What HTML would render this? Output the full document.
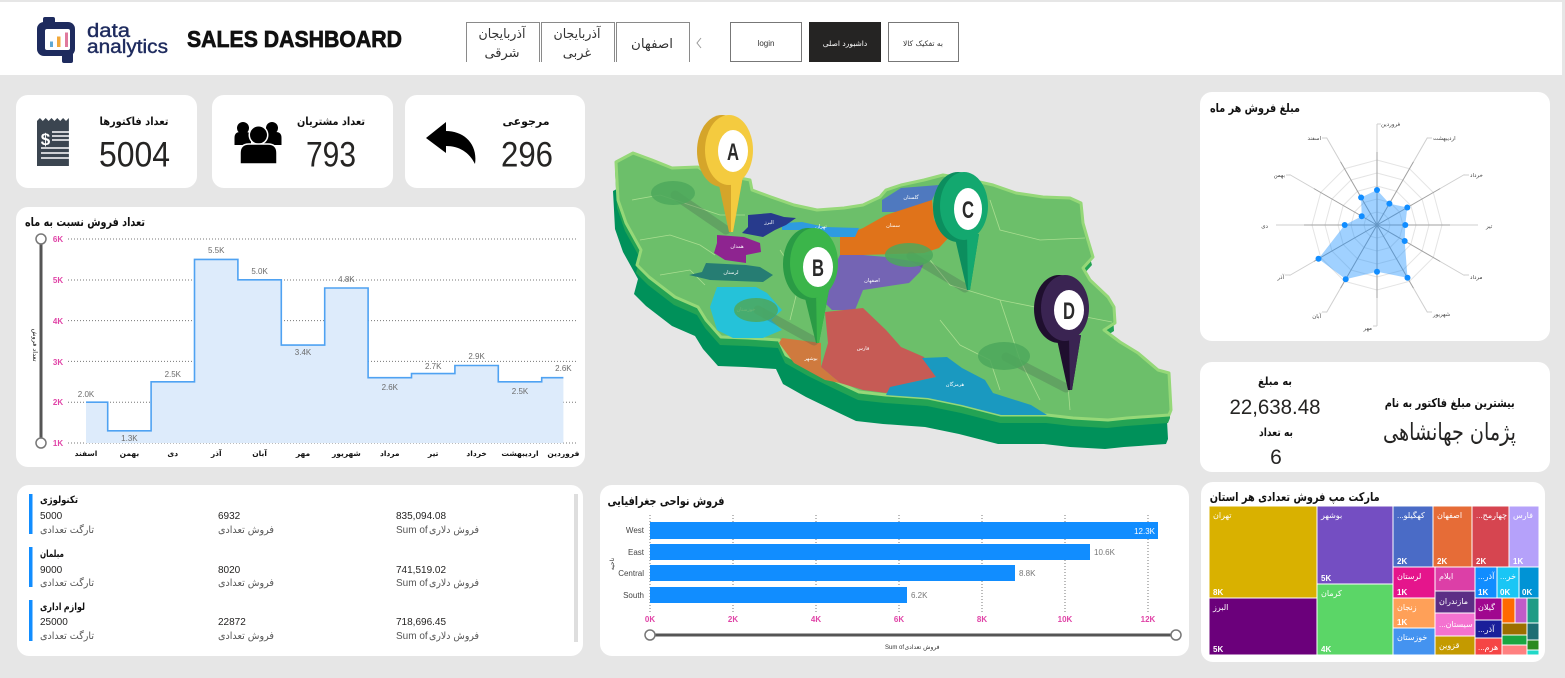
<!DOCTYPE html>
<html><head><meta charset="utf-8">
<style>
html,body{margin:0;padding:0;background:#E6E6E6;overflow:hidden;}
svg{display:block}
text{font-family:"Liberation Sans","DejaVu Sans",sans-serif;}
.fa{font-family:"DejaVu Sans","Liberation Sans",sans-serif;}
</style></head><body>
<svg width="1565" height="678" viewBox="0 0 1565 678" xmlns="http://www.w3.org/2000/svg">
<rect x="0" y="0" width="1565" height="678" fill="#E6E6E6"/>

<!-- HEADER -->
<rect x="0" y="2" width="1562" height="73" fill="#fff"/>
<rect x="37" y="22" width="38" height="34" rx="7" fill="#1E2B5E"/>
<rect x="43" y="17" width="12" height="9" rx="2" fill="#1E2B5E"/>
<rect x="62" y="52" width="11" height="11" rx="2" fill="#1E2B5E"/>
<rect x="45" y="29" width="25" height="21" rx="2" fill="#fff"/>
<rect x="50" y="41.5" width="3" height="5.5" fill="#5FA8D3"/>
<rect x="57" y="36.5" width="3.5" height="10.5" fill="#F2A93B"/>
<rect x="65" y="32.5" width="3" height="14.5" fill="#E0799C"/>
<text x="87" y="37" font-size="19" fill="#1E2B5E" stroke="#1E2B5E" stroke-width="0.4" textLength="43" lengthAdjust="spacingAndGlyphs">data</text>
<text x="87" y="53" font-size="19" fill="#1E2B5E" stroke="#1E2B5E" stroke-width="0.4" textLength="81" lengthAdjust="spacingAndGlyphs">analytics</text>
<text x="187" y="47" font-size="23" font-weight="bold" fill="#111" stroke="#111" stroke-width="0.7" textLength="215" lengthAdjust="spacingAndGlyphs">SALES DASHBOARD</text>

<path d="M466.5,62 V22.5 H539.5 V62" fill="none" stroke="#8a8a8a" stroke-width="1"/>
<path d="M541.5,62 V22.5 H614.5 V62" fill="none" stroke="#8a8a8a" stroke-width="1"/>
<path d="M616.5,62 V22.5 H689.5 V62" fill="none" stroke="#8a8a8a" stroke-width="1"/>
<text class="fa" x="502" y="38" font-size="13" fill="#333" text-anchor="middle" textLength="47" lengthAdjust="spacingAndGlyphs">آذربایجان</text>
<text class="fa" x="502" y="57" font-size="13" fill="#333" text-anchor="middle">شرقی</text>
<text class="fa" x="577" y="38" font-size="13" fill="#333" text-anchor="middle" textLength="47" lengthAdjust="spacingAndGlyphs">آذربایجان</text>
<text class="fa" x="577" y="57" font-size="13" fill="#333" text-anchor="middle">غربی</text>
<text class="fa" x="652" y="48" font-size="13" fill="#333" text-anchor="middle" textLength="42" lengthAdjust="spacingAndGlyphs">اصفهان</text>
<polyline points="701,38 697,43 701,48" fill="none" stroke="#999" stroke-width="1"/>

<rect x="730.5" y="22.5" width="71" height="39" fill="#fff" stroke="#777"/>
<text x="766" y="46" font-size="8" fill="#333" text-anchor="middle">login</text>
<rect x="809" y="22" width="72" height="40" fill="#252423"/>
<text class="fa" x="845" y="46" font-size="7.5" fill="#fff" text-anchor="middle">داشبورد اصلی</text>
<rect x="888.5" y="22.5" width="70" height="39" fill="#fff" stroke="#777"/>
<text class="fa" x="923" y="46" font-size="7.5" fill="#333" text-anchor="middle">به تفکیک کالا</text>

<!-- KPI CARDS -->
<rect x="16" y="95" width="181" height="93" rx="12" fill="#fff"/>
<rect x="212" y="95" width="181" height="93" rx="12" fill="#fff"/>
<rect x="405" y="95" width="180" height="93" rx="12" fill="#fff"/>

<path d="M37,121 l2.9,-3 l2.9,3 l2.9,-3 l2.9,3 l2.9,-3 l2.9,3 l2.9,-3 l2.9,3 l2.9,-3 l2.9,3 l2.9,-3 V166 H37 Z" fill="#3B4550"/>
<text x="45.5" y="145" font-size="17" font-weight="bold" fill="#fff" text-anchor="middle">$</text>
<g stroke="#fff" stroke-width="1.6">
<line x1="52" y1="132" x2="69" y2="132"/><line x1="52" y1="136" x2="69" y2="136"/><line x1="52" y1="140" x2="69" y2="140"/>
<line x1="41" y1="148" x2="69" y2="148"/><line x1="41" y1="153" x2="69" y2="153"/><line x1="41" y1="158" x2="69" y2="158"/>
</g>
<text class="fa" x="134" y="125" font-size="11" font-weight="bold" fill="#111" text-anchor="middle" textLength="69" lengthAdjust="spacingAndGlyphs">تعداد فاکتورها</text>
<text x="134.5" y="166.5" font-size="35" fill="#252423" text-anchor="middle" textLength="71" lengthAdjust="spacingAndGlyphs">5004</text>

<circle cx="243" cy="128" r="6" fill="#000"/>
<circle cx="272" cy="128" r="6" fill="#000"/>
<path d="M234.5,145 V138 Q234.5,132 240,132 H246 Q251,132 251,138 V145 Z" fill="#000"/>
<path d="M264,145 V138 Q264,132 269,132 H276 Q281.5,132 281.5,138 V145 Z" fill="#000"/>
<circle cx="258.5" cy="135" r="10" fill="#fff"/>
<circle cx="258.5" cy="135" r="8.5" fill="#000"/>
<path d="M240,164 V153 Q240,144 249,144 H268 Q277,144 277,153 V164 Z" fill="#000" stroke="#fff" stroke-width="1.5"/>
<text class="fa" x="331" y="125" font-size="11" font-weight="bold" fill="#111" text-anchor="middle" textLength="68" lengthAdjust="spacingAndGlyphs">تعداد مشتریان</text>
<text x="331" y="166.5" font-size="35" fill="#252423" text-anchor="middle" textLength="50" lengthAdjust="spacingAndGlyphs">793</text>

<path d="M426,138 L446,122 L446,131 C464,131 478,144 475,164 C469,152 459,146 446,146 L446,153 Z" fill="#000"/>
<text class="fa" x="526" y="125" font-size="11" font-weight="bold" fill="#111" text-anchor="middle" textLength="47" lengthAdjust="spacingAndGlyphs">مرجوعی</text>
<text x="527" y="166.5" font-size="35" fill="#252423" text-anchor="middle" textLength="52" lengthAdjust="spacingAndGlyphs">296</text>

<!-- STEP CHART CARD -->
<rect x="16" y="207" width="569" height="260" rx="12" fill="#fff"/>
<text class="fa" x="85" y="226" font-size="12" font-weight="bold" fill="#111" text-anchor="middle" textLength="120" lengthAdjust="spacingAndGlyphs">تعداد فروش نسبت به ماه</text>
<g stroke="#777" stroke-width="1" stroke-dasharray="1,2">
<line x1="68" x2="578" y1="239" y2="239"/>
<line x1="68" x2="578" y1="280" y2="280"/>
<line x1="68" x2="578" y1="320.6" y2="320.6"/>
<line x1="68" x2="578" y1="361.4" y2="361.4"/>
<line x1="68" x2="578" y1="402.2" y2="402.2"/>
<line x1="68" x2="578" y1="443" y2="443"/>
</g>
<g font-size="8" font-weight="bold" fill="#E044A7" text-anchor="middle">
<text x="58" y="242">6K</text><text x="58" y="283">5K</text><text x="58" y="324">4K</text>
<text x="58" y="365">3K</text><text x="58" y="405">2K</text><text x="58" y="446">1K</text>
</g>
<line x1="41" y1="239" x2="41" y2="443" stroke="#555" stroke-width="3"/>
<circle cx="41" cy="239" r="5" fill="#fff" stroke="#777" stroke-width="1.5"/>
<circle cx="41" cy="443" r="5" fill="#fff" stroke="#777" stroke-width="1.5"/>
<text class="fa" x="0" y="0" font-size="6.5" fill="#222" text-anchor="middle" transform="translate(33,345) rotate(90)">تعداد فروش</text>
<path d="M86,402.2 H107.7 V430.8 H151.1 V381.8 H194.5 V259.4 H237.9 V279.8 H281.3 V345.1 H324.7 V288 H368.1 V377.7 H411.5 V373.6 H454.9 V365.5 H498.3 V381.8 H541.7 V377.7 H563.4 V443 H86 Z" fill="#DDEBFB"/>
<path d="M86,402.2 H107.7 V430.8 H151.1 V381.8 H194.5 V259.4 H237.9 V279.8 H281.3 V345.1 H324.7 V288 H368.1 V377.7 H411.5 V373.6 H454.9 V365.5 H498.3 V381.8 H541.7 V377.7 H563.4" fill="none" stroke="#4FA2F2" stroke-width="1.6"/>
<g font-size="8" fill="#6b6b6b" text-anchor="middle">
<text x="86" y="397">2.0K</text><text x="129.4" y="441">1.3K</text><text x="172.8" y="377">2.5K</text>
<text x="216.2" y="253">5.5K</text><text x="259.6" y="274">5.0K</text><text x="303" y="355">3.4K</text>
<text x="346.4" y="282">4.8K</text><text x="389.8" y="390">2.6K</text><text x="433.2" y="369">2.7K</text>
<text x="476.6" y="359">2.9K</text><text x="520" y="394">2.5K</text><text x="563.4" y="371">2.6K</text>
</g>
<g class="fa" font-size="7.5" font-weight="bold" fill="#111" text-anchor="middle">
<text x="86" y="456">اسفند</text><text x="129.4" y="456">بهمن</text><text x="172.8" y="456">دی</text>
<text x="216.2" y="456">آذر</text><text x="259.6" y="456">آبان</text><text x="303" y="456">مهر</text>
<text x="346.4" y="456">شهریور</text><text x="389.8" y="456">مرداد</text><text x="433.2" y="456">تیر</text>
<text x="476.6" y="456">خرداد</text><text x="520" y="456">اردیبهشت</text><text x="563.4" y="456">فروردین</text>
</g>

<!-- MAP -->
<polygon transform="translate(-3,29)" fill="#00915A" points="616,162 633,153 652,160 672,168 698,167 710,175 740,178 750,180 752,190 771,197 794,205 817,210 844,208 863,205 880,197 886,190 901,185 924,180 943,175 962,178 993,185 1016,193 1043,197 1070,198 1081,203 1083,223 1087,237 1093,257 1083,268 1090,280 1108,297 1114,307 1115,323 1104,330 1120,342 1138,353 1158,370 1169,373 1171,410 1169,415 1127,418 1108,420 1073,418 1047,415 1001,415 962,405 928,398 886,395 859,392 840,383 809,368 786,355 779,340 748,338 721,337 706,320 698,307 675,297 649,277 637,265 641,250 626,223 618,200"/>
<polygon transform="translate(-1,8)" fill="#23A354" points="616,162 633,153 652,160 672,168 698,167 710,175 740,178 750,180 752,190 771,197 794,205 817,210 844,208 863,205 880,197 886,190 901,185 924,180 943,175 962,178 993,185 1016,193 1043,197 1070,198 1081,203 1083,223 1087,237 1093,257 1083,268 1090,280 1108,297 1114,307 1115,323 1104,330 1120,342 1138,353 1158,370 1169,373 1171,410 1169,415 1127,418 1108,420 1073,418 1047,415 1001,415 962,405 928,398 886,395 859,392 840,383 809,368 786,355 779,340 748,338 721,337 706,320 698,307 675,297 649,277 637,265 641,250 626,223 618,200"/>
<polygon fill="#6CBF6A" stroke="#95D878" stroke-width="3" stroke-linejoin="round" points="616,162 633,153 652,160 672,168 698,167 710,175 740,178 750,180 752,190 771,197 794,205 817,210 844,208 863,205 880,197 886,190 901,185 924,180 943,175 962,178 993,185 1016,193 1043,197 1070,198 1081,203 1083,223 1087,237 1093,257 1083,268 1090,280 1108,297 1114,307 1115,323 1104,330 1120,342 1138,353 1158,370 1169,373 1171,410 1169,415 1127,418 1108,420 1073,418 1047,415 1001,415 962,405 928,398 886,395 859,392 840,383 809,368 786,355 779,340 748,338 721,337 706,320 698,307 675,297 649,277 637,265 641,250 626,223 618,200"/>
<g fill="none" stroke="#A9DE90" stroke-width="0.8">
<polyline points="632,200 660,195 690,205 720,215 745,215"/>
<polyline points="640,240 670,235 700,245 715,255"/>
<polyline points="660,275 690,270 705,285"/>
<polyline points="990,200 1000,230 1040,240 1085,238"/>
<polyline points="950,285 1000,300 1060,312 1112,322"/>
<polyline points="1000,300 1010,330 1020,360 1040,400"/>
<polyline points="940,320 960,345 990,360 1000,390"/>
<polyline points="1060,312 1065,350 1070,410"/>
<polyline points="930,260 950,285"/>
<polyline points="780,250 800,280 790,320"/>
</g>
<!-- provinces -->
<polygon fill="#4F79BF" points="882,200 901,188 939,185 932,200 916,212 882,212"/>
<polygon fill="#E0731A" points="840,237 863,228 886,215 932,200 934,220 951,235 939,248 924,253 863,255 840,255"/>
<polygon fill="#2E9BE0" points="782,223 802,222 825,227 859,228 855,237 832,237 802,230 782,230"/>
<polygon fill="#273A8C" points="748,215 771,213 784,217 796,218 786,225 775,230 763,237 742,233 748,227"/>
<polygon fill="#8E2490" points="717,235 744,237 760,243 761,252 746,255 746,263 725,260 714,253 717,243"/>
<polygon fill="#267D73" points="706,263 746,265 760,267 773,275 763,282 710,280 689,275 702,272"/>
<polygon fill="#25C2D9" points="717,287 756,287 767,293 782,310 771,320 782,330 763,338 733,338 717,330 710,307"/>
<polygon fill="#7464B4" points="840,255 863,255 886,257 924,263 920,272 909,283 863,290 855,310 832,310 825,303 825,277 836,263"/>
<polygon fill="#C65B55" points="825,312 863,308 886,330 901,347 924,357 936,377 909,383 886,393 863,390 840,383 821,367 828,343"/>
<polygon fill="#CF7A3E" points="782,338 821,343 821,367 840,383 825,380 794,363 779,343"/>
<polygon fill="#1A99C0" points="922,358 947,357 962,368 985,380 993,393 1031,405 1047,415 1001,415 962,405 928,398 886,395 890,387 936,377"/>
<g class="fa" font-size="5" fill="#fff" text-anchor="middle">
<text x="911" y="199">گلستان</text><text x="769" y="224">البرز</text><text x="821" y="228">تهران</text>
<text x="893" y="227">سمنان</text><text x="737" y="248">همدان</text><text x="731" y="274">لرستان</text>
<text x="872" y="282">اصفهان</text><text x="746" y="311">خوزستان</text><text x="863" y="350">فارس</text>
<text x="811" y="360">بوشهر</text><text x="955" y="386">هرمزگان</text>
</g>
<!-- shadows -->
<g stroke="rgba(70,90,80,0.28)" stroke-width="9" stroke-linecap="round">
<line x1="675" y1="195" x2="726" y2="230"/>
<line x1="758" y1="310" x2="814" y2="341"/>
<line x1="911" y1="256" x2="965" y2="288"/>
<line x1="1006" y1="357" x2="1066" y2="388"/>
</g>
<g fill="#4DA85C" opacity="0.85">
<ellipse cx="673" cy="193" rx="22" ry="12"/>
<ellipse cx="909" cy="255" rx="24" ry="12"/>
<ellipse cx="756" cy="310" rx="22" ry="12"/>
<ellipse cx="1004" cy="356" rx="26" ry="14"/>
</g>
<!-- pins -->
<polygon points="717,176 743,176 733,232 729,232" fill="#D5A52A"/>
<polygon points="731,176 743,176 733,232 731,232" fill="#F4CB3F"/>
<ellipse cx="722" cy="151" rx="25" ry="36" fill="#D5A52A"/>
<ellipse cx="729" cy="150" rx="24" ry="35" fill="#F4CB3F"/>
<ellipse cx="733" cy="151" rx="15" ry="21" fill="#fff"/>
<text x="733" y="160" font-size="24" font-weight="bold" fill="#2a2a2a" text-anchor="middle" textLength="12" lengthAdjust="spacingAndGlyphs">A</text>

<polygon points="803,290 829,290 819,343 816,343" fill="#2A9B45"/>
<polygon points="816,290 829,290 819,343 817,343" fill="#3BB54A"/>
<ellipse cx="808" cy="264" rx="25" ry="36" fill="#2A9B45"/>
<ellipse cx="814" cy="263" rx="24" ry="35" fill="#3BB54A"/>
<ellipse cx="818" cy="267" rx="15" ry="20" fill="#fff"/>
<text x="818" y="276" font-size="24" font-weight="bold" fill="#2a2a2a" text-anchor="middle" textLength="12" lengthAdjust="spacingAndGlyphs">B</text>

<polygon points="954,234 979,234 970,290 967,290" fill="#0C8E5E"/>
<polygon points="967,234 979,234 970,290 968,290" fill="#13A86F"/>
<ellipse cx="958" cy="207" rx="25" ry="35" fill="#0C8E5E"/>
<ellipse cx="964" cy="206" rx="24" ry="34" fill="#13A86F"/>
<ellipse cx="968" cy="209" rx="14" ry="21" fill="#fff"/>
<text x="968" y="218" font-size="24" font-weight="bold" fill="#2a2a2a" text-anchor="middle" textLength="12" lengthAdjust="spacingAndGlyphs">C</text>

<polygon points="1056,335 1081,335 1072,390 1068,390" fill="#1F0F2E"/>
<polygon points="1069,335 1081,335 1072,390 1070,390" fill="#3A2452"/>
<ellipse cx="1059" cy="309" rx="25" ry="34" fill="#1F0F2E"/>
<ellipse cx="1065" cy="308" rx="24" ry="33" fill="#3A2452"/>
<ellipse cx="1069" cy="310" rx="15" ry="20" fill="#fff"/>
<text x="1069" y="319" font-size="24" font-weight="bold" fill="#2a2a2a" text-anchor="middle" textLength="12" lengthAdjust="spacingAndGlyphs">D</text>

<!-- RADAR CARD -->
<rect x="1200" y="92" width="350" height="249" rx="12" fill="#fff"/>
<text class="fa" x="1255" y="112" font-size="12" font-weight="bold" fill="#111" text-anchor="middle" textLength="90" lengthAdjust="spacingAndGlyphs">مبلغ فروش هر ماه</text>
<g transform="translate(1377,225)">
<g fill="none" stroke="#E4E4E4" stroke-width="1">
<polygon transform="scale(13)" vector-effect="non-scaling-stroke" points="0,-1 0.5,-0.866 0.866,-0.5 1,0 0.866,0.5 0.5,0.866 0,1 -0.5,0.866 -0.866,0.5 -1,0 -0.866,-0.5 -0.5,-0.866"/>
<polygon transform="scale(26)" vector-effect="non-scaling-stroke" points="0,-1 0.5,-0.866 0.866,-0.5 1,0 0.866,0.5 0.5,0.866 0,1 -0.5,0.866 -0.866,0.5 -1,0 -0.866,-0.5 -0.5,-0.866"/>
<polygon transform="scale(39)" vector-effect="non-scaling-stroke" points="0,-1 0.5,-0.866 0.866,-0.5 1,0 0.866,0.5 0.5,0.866 0,1 -0.5,0.866 -0.866,0.5 -1,0 -0.866,-0.5 -0.5,-0.866"/>
<polygon transform="scale(52)" vector-effect="non-scaling-stroke" points="0,-1 0.5,-0.866 0.866,-0.5 1,0 0.866,0.5 0.5,0.866 0,1 -0.5,0.866 -0.866,0.5 -1,0 -0.866,-0.5 -0.5,-0.866"/>
<polygon transform="scale(65)" vector-effect="non-scaling-stroke" points="0,-1 0.5,-0.866 0.866,-0.5 1,0 0.866,0.5 0.5,0.866 0,1 -0.5,0.866 -0.866,0.5 -1,0 -0.866,-0.5 -0.5,-0.866"/>
</g>
<g stroke="#CFCFCF" stroke-width="1">
<line x1="0" y1="-73" x2="0" y2="-101" transform="rotate(0)"/>
<line x1="0" y1="-73" x2="0" y2="-101" transform="rotate(30)"/>
<line x1="0" y1="-73" x2="0" y2="-101" transform="rotate(60)"/>
<line x1="0" y1="-73" x2="0" y2="-101" transform="rotate(90)"/>
<line x1="0" y1="-73" x2="0" y2="-101" transform="rotate(120)"/>
<line x1="0" y1="-73" x2="0" y2="-101" transform="rotate(150)"/>
<line x1="0" y1="-73" x2="0" y2="-101" transform="rotate(180)"/>
<line x1="0" y1="-73" x2="0" y2="-101" transform="rotate(210)"/>
<line x1="0" y1="-73" x2="0" y2="-101" transform="rotate(240)"/>
<line x1="0" y1="-73" x2="0" y2="-101" transform="rotate(270)"/>
<line x1="0" y1="-73" x2="0" y2="-101" transform="rotate(300)"/>
<line x1="0" y1="-73" x2="0" y2="-101" transform="rotate(330)"/>
</g>
<g stroke="#A0A0A0" stroke-width="1">
<line x1="0" y1="0" x2="0" y2="-73" transform="rotate(0)"/>
<line x1="0" y1="0" x2="0" y2="-73" transform="rotate(30)"/>
<line x1="0" y1="0" x2="0" y2="-73" transform="rotate(60)"/>
<line x1="0" y1="0" x2="0" y2="-73" transform="rotate(90)"/>
<line x1="0" y1="0" x2="0" y2="-73" transform="rotate(120)"/>
<line x1="0" y1="0" x2="0" y2="-73" transform="rotate(150)"/>
<line x1="0" y1="0" x2="0" y2="-73" transform="rotate(180)"/>
<line x1="0" y1="0" x2="0" y2="-73" transform="rotate(210)"/>
<line x1="0" y1="0" x2="0" y2="-73" transform="rotate(240)"/>
<line x1="0" y1="0" x2="0" y2="-73" transform="rotate(270)"/>
<line x1="0" y1="0" x2="0" y2="-73" transform="rotate(300)"/>
<line x1="0" y1="0" x2="0" y2="-73" transform="rotate(330)"/>
</g>
</g>
<g stroke="#CFCFCF" stroke-width="1">
<line x1="1377" y1="124" x2="1381" y2="124"/>
<line x1="1427" y1="138" x2="1432" y2="138"/>
<line x1="1464" y1="175" x2="1469" y2="175"/>
<line x1="1464" y1="275" x2="1469" y2="275"/>
<line x1="1427" y1="312" x2="1432" y2="312"/>
<line x1="1373" y1="326" x2="1377" y2="326"/>
<line x1="1327" y1="312" x2="1322" y2="312"/>
<line x1="1290" y1="275" x2="1285" y2="275"/>
<line x1="1290" y1="175" x2="1286" y2="175"/>
<line x1="1327" y1="138" x2="1322" y2="138"/>
</g>
<polygon points="1377,190 1389.4,203.6 1407.3,207.5 1405.3,225 1404.7,241 1407.5,277.8 1377,271.7 1345.7,279.3 1318.5,258.8 1344.7,225 1361.7,216.2 1361.1,197.5" fill="#118DFF" fill-opacity="0.4"/>
<g fill="#118DFF">
<circle cx="1377" cy="190" r="3"/><circle cx="1389.4" cy="203.6" r="3"/><circle cx="1407.3" cy="207.5" r="3"/>
<circle cx="1405.3" cy="225" r="3"/><circle cx="1404.7" cy="241" r="3"/><circle cx="1407.5" cy="277.8" r="3"/>
<circle cx="1377" cy="271.7" r="3"/><circle cx="1345.7" cy="279.3" r="3"/><circle cx="1318.5" cy="258.8" r="3"/>
<circle cx="1344.7" cy="225" r="3"/><circle cx="1361.7" cy="216.2" r="3"/><circle cx="1361.1" cy="197.5" r="3"/>
</g>
<g class="fa" font-size="5.5" fill="#444">
<text x="1381" y="126">فروردین</text>
<text x="1433" y="140">اردیبهشت</text>
<text x="1470" y="177">خرداد</text>
<text x="1486" y="228">تیر</text>
<text x="1470" y="279">مرداد</text>
<text x="1433" y="316">شهریور</text>
<text x="1372" y="330" text-anchor="end">مهر</text>
<text x="1321" y="318" text-anchor="end">آبان</text>
<text x="1284" y="279" text-anchor="end">آذر</text>
<text x="1268" y="228" text-anchor="end">دی</text>
<text x="1285" y="177" text-anchor="end">بهمن</text>
<text x="1321" y="140" text-anchor="end">اسفند</text>
</g>

<!-- INFO CARD -->
<rect x="1200" y="362" width="350" height="110" rx="12" fill="#fff"/>
<text class="fa" x="1275" y="385" font-size="11" font-weight="bold" fill="#111" text-anchor="middle" textLength="34" lengthAdjust="spacingAndGlyphs">به مبلغ</text>
<text x="1275" y="414" font-size="21" fill="#252423" text-anchor="middle" textLength="91" lengthAdjust="spacingAndGlyphs">22,638.48</text>
<text class="fa" x="1276" y="436" font-size="11" font-weight="bold" fill="#111" text-anchor="middle" textLength="34" lengthAdjust="spacingAndGlyphs">به تعداد</text>
<text x="1276" y="464" font-size="21" fill="#252423" text-anchor="middle">6</text>
<text class="fa" x="1449.7" y="407" font-size="12" font-weight="bold" fill="#111" text-anchor="middle" textLength="130" lengthAdjust="spacingAndGlyphs">بیشترین مبلغ فاکتور به نام</text>
<text class="fa" x="1449.5" y="440" font-size="24" fill="#252423" text-anchor="middle" textLength="133" lengthAdjust="spacingAndGlyphs">پژمان جهانشاهی</text>

<!-- TABLE CARD -->
<rect x="17" y="485" width="566" height="171" rx="12" fill="#fff"/>
<rect x="29" y="494" width="3.5" height="40" fill="#118DFF"/>
<rect x="29" y="547" width="3.5" height="40" fill="#118DFF"/>
<rect x="29" y="600" width="3.5" height="41" fill="#118DFF"/>
<rect x="574" y="494" width="4" height="148" fill="#DEDEDE"/>
<g class="fa" font-size="10" font-weight="bold" fill="#111" text-anchor="middle">
<text x="59" y="503" textLength="38" lengthAdjust="spacingAndGlyphs">تکنولوژی</text>
<text x="52" y="557" textLength="24" lengthAdjust="spacingAndGlyphs">مبلمان</text>
<text x="62.5" y="610" textLength="45" lengthAdjust="spacingAndGlyphs">لوازم اداری</text>
</g>
<g font-size="10" fill="#252423">
<text x="40" y="519">5000</text><text x="218" y="519">6932</text><text x="396" y="519">835,094.08</text>
<text x="40" y="573">9000</text><text x="218" y="573">8020</text><text x="396" y="573">741,519.02</text>
<text x="40" y="625">25000</text><text x="218" y="625">22872</text><text x="396" y="625">718,696.45</text>
</g>
<g font-size="10" fill="#555">
<text class="fa" x="67" y="533" text-anchor="middle" textLength="54" lengthAdjust="spacingAndGlyphs">تارگت تعدادی</text>
<text class="fa" x="246" y="533" text-anchor="middle" textLength="56" lengthAdjust="spacingAndGlyphs">فروش تعدادی</text>
<text x="396" y="533">Sum of</text>
<text class="fa" x="454" y="533" text-anchor="middle" textLength="50" lengthAdjust="spacingAndGlyphs">فروش دلاری</text>
<text class="fa" x="67" y="586" text-anchor="middle" textLength="54" lengthAdjust="spacingAndGlyphs">تارگت تعدادی</text>
<text class="fa" x="246" y="586" text-anchor="middle" textLength="56" lengthAdjust="spacingAndGlyphs">فروش تعدادی</text>
<text x="396" y="586">Sum of</text>
<text class="fa" x="454" y="586" text-anchor="middle" textLength="50" lengthAdjust="spacingAndGlyphs">فروش دلاری</text>
<text class="fa" x="67" y="639" text-anchor="middle" textLength="54" lengthAdjust="spacingAndGlyphs">تارگت تعدادی</text>
<text class="fa" x="246" y="639" text-anchor="middle" textLength="56" lengthAdjust="spacingAndGlyphs">فروش تعدادی</text>
<text x="396" y="639">Sum of</text>
<text class="fa" x="454" y="639" text-anchor="middle" textLength="50" lengthAdjust="spacingAndGlyphs">فروش دلاری</text>
</g>

<!-- BAR CHART CARD -->
<rect x="600" y="485" width="589" height="171" rx="12" fill="#fff"/>
<text class="fa" x="666" y="505" font-size="12" font-weight="bold" fill="#111" text-anchor="middle" textLength="117" lengthAdjust="spacingAndGlyphs">فروش نواحی جغرافیایی</text>
<g stroke="#777" stroke-width="1" stroke-dasharray="1,2">
<line x1="650" y1="515" x2="650" y2="612"/><line x1="733" y1="515" x2="733" y2="612"/>
<line x1="816" y1="515" x2="816" y2="612"/><line x1="899" y1="515" x2="899" y2="612"/>
<line x1="982" y1="515" x2="982" y2="612"/><line x1="1065" y1="515" x2="1065" y2="612"/>
<line x1="1148" y1="515" x2="1148" y2="612"/>
</g>
<rect x="650" y="522" width="508" height="17" fill="#118DFF"/>
<rect x="650" y="544" width="440" height="16" fill="#118DFF"/>
<rect x="650" y="565" width="365" height="16" fill="#118DFF"/>
<rect x="650" y="587" width="257" height="16" fill="#118DFF"/>
<g font-size="8" fill="#444" text-anchor="end">
<text x="644" y="533">West</text><text x="644" y="555">East</text>
<text x="644" y="576">Central</text><text x="644" y="598">South</text>
</g>
<text x="1155" y="534" font-size="8" fill="#fff" text-anchor="end">12.3K</text>
<g font-size="8" fill="#777">
<text x="1094" y="555">10.6K</text><text x="1019" y="576">8.8K</text><text x="911" y="598">6.2K</text>
</g>
<g font-size="8" font-weight="bold" fill="#E044A7" text-anchor="middle">
<text x="650" y="622">0K</text><text x="733" y="622">2K</text><text x="816" y="622">4K</text>
<text x="899" y="622">6K</text><text x="982" y="622">8K</text><text x="1065" y="622">10K</text>
<text x="1148" y="622">12K</text>
</g>
<line x1="650" y1="635" x2="1176" y2="635" stroke="#555" stroke-width="3"/>
<circle cx="650" cy="635" r="5" fill="#fff" stroke="#777" stroke-width="1.5"/>
<circle cx="1176" cy="635" r="5" fill="#fff" stroke="#777" stroke-width="1.5"/>
<text x="885" y="649" font-size="6" fill="#333">Sum of</text>
<text class="fa" x="922" y="649" font-size="6" fill="#333" text-anchor="middle">فروش تعدادی</text>
<text class="fa" x="0" y="0" font-size="6" fill="#333" text-anchor="middle" transform="translate(614,564) rotate(-90)">ناحیه</text>

<!-- TREEMAP CARD -->
<rect x="1201" y="482" width="344" height="180" rx="12" fill="#fff"/>
<text class="fa" x="1294.7" y="501" font-size="12" font-weight="bold" fill="#111" text-anchor="middle" textLength="170" lengthAdjust="spacingAndGlyphs">مارکت مپ فروش تعدادی هر استان</text>
<g stroke="#fff" stroke-width="1">
<rect x="1209" y="506" width="108" height="92" fill="#D9B100"/>
<rect x="1209" y="598" width="108" height="57" fill="#6B007B"/>
<rect x="1317" y="506" width="76" height="78" fill="#744EC2"/>
<rect x="1317" y="584" width="76" height="71" fill="#5BD667"/>
<rect x="1393" y="506" width="40" height="61" fill="#4A6BC6"/>
<rect x="1433" y="506" width="39" height="61" fill="#E66C37"/>
<rect x="1472" y="506" width="37" height="61" fill="#D64550"/>
<rect x="1509" y="506" width="30" height="61" fill="#B5A1FA"/>
<rect x="1393" y="567" width="42" height="31" fill="#E5158C"/>
<rect x="1393" y="598" width="42" height="30" fill="#FFA058"/>
<rect x="1393" y="628" width="42" height="27" fill="#4493F0"/>
<rect x="1435" y="567" width="40" height="24" fill="#DC3FA7"/>
<rect x="1435" y="591" width="40" height="22" fill="#5C2E85"/>
<rect x="1435" y="613" width="40" height="23" fill="#F472D0"/>
<rect x="1435" y="636" width="40" height="19" fill="#C49A00"/>
<rect x="1475" y="567" width="22" height="31" fill="#118DFF"/>
<rect x="1497" y="567" width="22" height="31" fill="#1AC6F5"/>
<rect x="1519" y="567" width="20" height="31" fill="#0093D5"/>
<rect x="1475" y="598" width="27" height="22" fill="#A0078F"/>
<rect x="1475" y="620" width="27" height="18" fill="#1A1F9A"/>
<rect x="1475" y="638" width="27" height="17" fill="#F54545"/>
<rect x="1502" y="598" width="13" height="25" fill="#FF6A00"/>
<rect x="1515" y="598" width="12" height="25" fill="#C05CC8"/>
<rect x="1527" y="598" width="12" height="25" fill="#1F9C85"/>
<rect x="1502" y="623" width="25" height="12" fill="#9C6F00"/>
<rect x="1527" y="623" width="12" height="17" fill="#1E6E74"/>
<rect x="1502" y="635" width="25" height="10" fill="#1AA641"/>
<rect x="1527" y="640" width="12" height="10" fill="#2B8A1F"/>
<rect x="1502" y="645" width="25" height="10" fill="#FF8080"/>
<rect x="1527" y="650" width="12" height="5" fill="#20D9C8"/>
</g>
<g class="fa" font-size="8" fill="#fff">
<text x="1213" y="518">تهران</text><text x="1213" y="610">البرز</text>
<text x="1321" y="518">بوشهر</text><text x="1321" y="596">کرمان</text>
<text x="1397" y="518">...کهگیلو</text><text x="1437" y="518">اصفهان</text>
<text x="1476" y="518">...چهارمح</text><text x="1513" y="518">فارس</text>
<text x="1397" y="579">لرستان</text><text x="1397" y="610">زنجان</text><text x="1397" y="640">خوزستان</text>
<text x="1439" y="579">ایلام</text><text x="1439" y="604">مازندران</text><text x="1439" y="627">...سیستان</text>
<text x="1439" y="648">قزوین</text><text x="1478" y="579">...آذر</text><text x="1500" y="579">...خر</text>
<text x="1478" y="610">گیلان</text><text x="1478" y="632">...آذر</text><text x="1478" y="650">...هرم</text>
</g>
<g font-size="8" font-weight="bold" fill="#fff">
<text x="1213" y="595">8K</text><text x="1213" y="652">5K</text>
<text x="1321" y="581">5K</text><text x="1321" y="652">4K</text>
<text x="1397" y="564">2K</text><text x="1437" y="564">2K</text><text x="1476" y="564">2K</text><text x="1513" y="564">1K</text>
<text x="1397" y="595">1K</text><text x="1397" y="625">1K</text>
<text x="1478" y="595">1K</text><text x="1500" y="595">0K</text><text x="1522" y="595">0K</text>
</g>
</svg>
</body></html>
